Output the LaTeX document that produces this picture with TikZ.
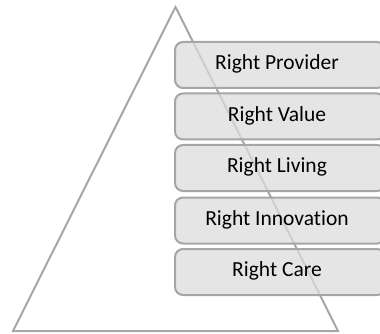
\documentclass[tikz,border=0pt]{standalone}
\usepackage{fontspec}
\setmainfont{Carlito}[Ligatures={NoCommon}]
\definecolor{lineg}{HTML}{A6A6A6}
\definecolor{boxfill}{HTML}{DCDCDC}
\begin{document}
\begin{tikzpicture}[x=1pt,y=-1pt,
  tier/.style={draw=lineg, line width=2pt, rounded corners=8pt, fill=boxfill, fill opacity=0.75, text opacity=1,
    minimum width=210pt, minimum height=46pt, anchor=north west, inner sep=0pt},
  tierlabel/.style={font=\fontsize{21.5}{25}\selectfont, text=black, anchor=center}]
\useasboundingbox (0,0) rectangle (380,334);
\begin{scope}
\clip (0,0) rectangle (380,334);
\coordinate (apex) at (175.5,7);
\coordinate (bl) at (13,331);
\coordinate (br) at (338,331);
\draw[lineg, line width=2pt, line join=miter] (apex) -- (br) -- (bl) -- cycle;
\node[tier] (p1) at (174,41) {};
\node[tier] (p2) at (174,92.5) {};
\node[tier] (p3) at (174,144) {};
\node[tier] (p4) at (174,196.5) {};
\node[tier] (p5) at (174,248) {};
\end{scope}
\node[tierlabel] (t1) at (277,64) {Right Provider};
\node[tierlabel] (t2) at (277,115.5) {Right Value};
\node[tierlabel] (t3) at (277,167) {Right Living};
\node[tierlabel] (t4) at (277,219.5) {Right Innovation};
\node[tierlabel] (t5) at (277,271) {Right Care};
\end{tikzpicture}
\end{document}
